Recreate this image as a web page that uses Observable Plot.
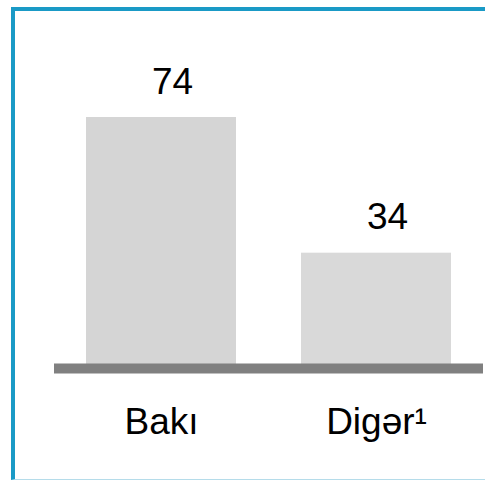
<!DOCTYPE html>
<html><head><meta charset="utf-8">
<script src="https://cdn.jsdelivr.net/npm/d3@7"></script>
<script src="https://cdn.jsdelivr.net/npm/@observablehq/plot@0.6"></script>
<style>
html,body{margin:0;padding:0;background:#fff;overflow:hidden}
#wrap{position:relative;width:485px;height:482px}
#frame{position:absolute;left:11px;top:7px;width:500px;height:473px;border-left:4px solid #1a9ac6;border-top:4px solid #1a9ac6;border-bottom:1px solid #b5dcea;box-sizing:border-box}
#chart{position:absolute;left:0;top:0}
</style></head>
<body><div id="wrap"><div id="frame"></div><div id="chart"></div></div>
<script>
const categories = ["Bakı", "Digər¹"];
const values = [74, 34];
const fills = ["#d5d5d5", "#d9d9d9"];
const data = categories.map((c, i) => ({category: c, value: values[i], fill: fills[i]}));

const chart = Plot.plot({
  width: 485,
  height: 482,
  marginLeft: 54,
  marginRight: 2,
  marginTop: 0,
  marginBottom: 0,
  style: {fontFamily: "Liberation Sans, Arial, sans-serif", background: "transparent"},
  x: {domain: categories, range: [86, 452], paddingInner: 0.3016, paddingOuter: 0, axis: null},
  y: {domain: [0, 74], range: [368, 117], axis: null},
  marks: [
    Plot.barY(data, {x: "category", y: "value", fill: "fill"}),
    Plot.ruleY([0], {stroke: "#808080", strokeWidth: 10}),
    Plot.text(data, {x: "category", y: "value", text: d => String(d.value), dy: -24, dx: 11, lineAnchor: "bottom", fontSize: 37, fill: "#000"}),
    Plot.text(data, {x: "category", y: 0, text: "category", dy: 65, lineAnchor: "bottom", fontSize: 37, fill: "#000"})
  ]
});
document.getElementById("chart").appendChild(chart);
</script></body></html>
